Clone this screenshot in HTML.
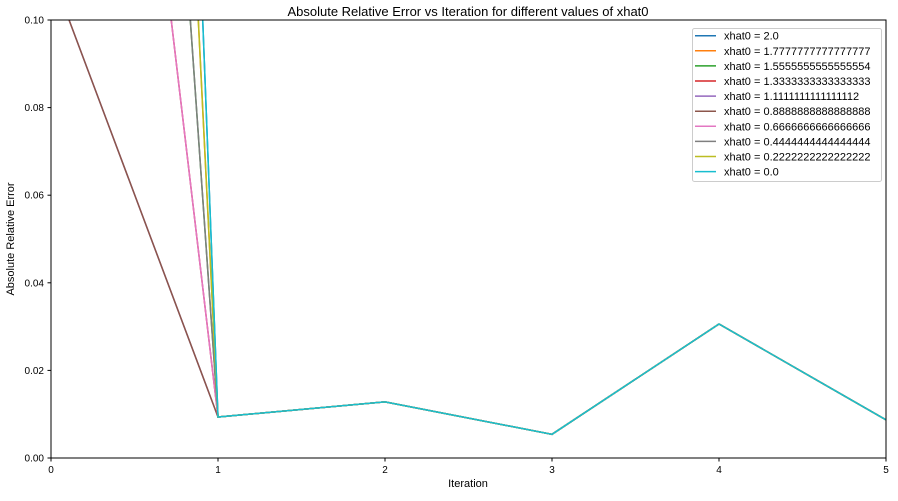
<!DOCTYPE html>
<html><head><meta charset="utf-8"><style>
body{margin:0;background:#fff;}
svg text{font-family:"Liberation Sans","DejaVu Sans",sans-serif;fill:#000;}
</style></head><body>
<svg id="chart" width="898" height="496" xmlns="http://www.w3.org/2000/svg">
<defs><clipPath id="clip"><rect x="51" y="20" width="835" height="438"/></clipPath></defs>
<rect width="898" height="496" fill="#fff"/>
<text x="468" y="16" font-size="13" text-anchor="middle">Absolute Relative Error vs Iteration for different values of xhat0</text>
<g id="plot" clip-path="url(#clip)"></g>
<rect x="51" y="20" width="835" height="438" fill="none" stroke="#000" stroke-width="1"/>
<g id="axes"></g>
<text x="468" y="487" font-size="11" text-anchor="middle">Iteration</text>
<text x="14" y="239" font-size="11" text-anchor="middle" transform="rotate(-90 14 239)">Absolute Relative Error</text>
<g id="legend"></g>
</svg>
<script>
const labels=["xhat0 = 2.0","xhat0 = 1.7777777777777777","xhat0 = 1.5555555555555554","xhat0 = 1.3333333333333333","xhat0 = 1.1111111111111112","xhat0 = 0.8888888888888888","xhat0 = 0.6666666666666666","xhat0 = 0.4444444444444444","xhat0 = 0.2222222222222222","xhat0 = 0.0"];
const startErrors=[1.0,0.778,0.556,0.333,0.111,0.111,0.333,0.556,0.778,1.0];
const laterErrors=[0.00936,0.0128,0.0054,0.0306,0.0087];
const xTicks=[0,1,2,3,4,5];
const yTicks=[0,0.02,0.04,0.06,0.08,0.1];
const yTickLabels=["0.00","0.02","0.04","0.06","0.08","0.10"];
const colors=["#1f77b4","#ff7f0e","#2ca02c","#d62728","#9467bd","#8c564b","#e377c2","#7f7f7f","#bcbd22","#17becf"];
const NS="http://www.w3.org/2000/svg";
const X=v=>51+v*167, Y=v=>458-v*4380;
function mk(t,a,p){const e=document.createElementNS(NS,t);for(const k in a)e.setAttribute(k,a[k]);p.appendChild(e);return e;}
const plot=document.getElementById('plot'),axes=document.getElementById('axes'),leg=document.getElementById('legend');
labels.forEach((lab,i)=>{
  const vals=[startErrors[i]].concat(laterErrors);
  const pts=vals.map((v,j)=>X(j).toFixed(1)+","+Y(v).toFixed(1)).join(" ");
  const pl=mk('polyline',{points:pts,fill:"none",stroke:colors[i],"stroke-width":1.5},plot);
  
  
});
xTicks.forEach(t=>{
  const l=mk('line',{x1:X(t),x2:X(t),y1:458,y2:461.5,stroke:"#000"},axes);
  
  
  const tx=mk('text',{x:X(t),y:473,"font-size":10,"text-anchor":"middle"},axes);tx.textContent=t;
  
  
});
yTicks.forEach((t,i)=>{
  const l=mk('line',{x1:47.5,x2:51,y1:Y(t),y2:Y(t),stroke:"#000"},axes);
  
  
  const tx=mk('text',{x:44,y:Y(t)+3.5,"font-size":10,"text-anchor":"end"},axes);tx.textContent=yTickLabels[i];
  
  
});
const box=mk('rect',{x:692.5,y:28.5,width:189,height:153,rx:2,fill:"#fff","fill-opacity":0.8,stroke:"#ccc"},leg);


labels.forEach((lab,i)=>{
  const y=35.7+i*15.1;
  const g=mk('g',{},leg);
  
  
  mk('line',{x1:695,x2:716,y1:y,y2:y,stroke:colors[i],"stroke-width":1.5},g);
  const tx=mk('text',{x:724,y:y+4,"font-size":11},g);tx.textContent=lab;
});
</script>
</body></html>
